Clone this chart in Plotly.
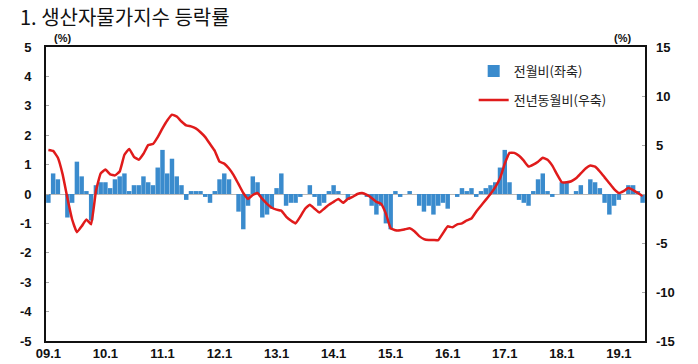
import plotly.graph_objects as go

# Monthly data 2009.1 - 2019.6
years = list(range(2009, 2020))
months = [f"{y % 100:02d}.{m}" for y in years for m in range(1, 13)][:126]

mom = [  # 전월비 (left axis, %)
    -0.3, 0.7, 0.5, 0.0, -0.8, -0.3, 1.1, 0.6, 0.1, -0.9, 0.3, 0.4,
    0.4, 0.2, 0.5, 0.6, 0.7, 0.1, 0.3, 0.3, 0.6, 0.4, 0.3, 0.9,
    1.5, 0.7, 1.2, 0.6, 0.3, -0.2, 0.1, 0.1, 0.1, -0.1, -0.3, 0.1,
    0.5, 0.7, 0.5, 0.0, -0.6, -1.2, -0.4, 0.6, 0.4, -0.8, -0.7, -0.5,
    0.2, 0.7, -0.4, -0.3, -0.3, -0.1, 0.0, 0.3, -0.1, -0.4, -0.3, 0.1,
    0.3, 0.1, 0.0, -0.2, 0.0, 0.0, 0.0, -0.1, -0.4, -0.7, -0.4, -1.0,
    -1.2, 0.1, -0.1, 0.0, 0.1, 0.0, -0.4, -0.6, -0.4, -0.7, -0.4, -0.3,
    -0.5, 0.0, -0.1, 0.2, 0.1, 0.2, -0.1, 0.1, 0.2, 0.3, 0.4, 0.9,
    1.5, 0.4, 0.0, -0.2, -0.3, -0.4, 0.1, 0.5, 0.7, 0.1, -0.1, 0.0,
    0.4, 0.4, 0.0, 0.1, 0.3, 0.0, 0.5, 0.4, 0.2, -0.3, -0.7, -0.4,
    -0.2, 0.0, 0.3, 0.3, 0.1, -0.3,
]

yoy = [  # 전년동월비 (right axis, %)
    4.5, 4.4, 3.7, 2.0, -0.4, -2.6, -3.9, -3.3, -2.6, -3.1, 0.3, 2.1,
    2.5, 2.0, 1.9, 2.3, 4.0, 4.6, 3.8, 3.5, 4.1, 5.0, 5.1, 5.8,
    6.7, 7.5, 8.1, 7.9, 7.4, 7.0, 6.9, 6.7, 6.3, 5.8, 5.1, 4.4,
    3.3, 3.1, 2.6, 1.9, 1.0, 0.1, -0.5, -0.1, 0.1, -0.5, -1.0, -1.4,
    -1.6, -1.7, -2.3, -2.7, -3.0, -2.3, -1.5, -1.1, -1.5, -1.9, -1.5, -1.1,
    -0.8, -0.5, -0.9, -0.5, -0.3, 0.0, 0.1, -0.1, -0.4, -0.8, -1.0, -2.0,
    -3.5, -3.7, -3.7, -3.6, -3.5, -3.8, -4.3, -4.6, -4.7, -4.7, -4.7, -4.0,
    -3.3, -3.4, -3.1, -3.0, -2.7, -2.5, -1.8, -1.2, -0.6, 0.0, 0.7, 1.6,
    3.1, 4.2, 4.2, 3.9, 3.4, 2.8, 3.0, 3.3, 3.7, 3.5, 2.9, 2.0,
    1.2, 1.2, 1.3, 1.6, 2.1, 2.6, 2.9, 2.8, 2.3, 1.7, 1.1, 0.5,
    0.1, 0.3, 0.6, 0.4, 0.1, -0.2,
]

x_tick_labels = ["09.1", "10.1", "11.1", "12.1", "13.1", "14.1",
                 "15.1", "16.1", "17.1", "18.1", "19.1"]
left_ticks = [5, 4, 3, 2, 1, 0, -1, -2, -3, -4, -5]
right_ticks = [15, 10, 5, 0, -5, -10, -15]

xs = list(range(len(months)))
tickfont = dict(family="Liberation Sans", size=13, color="#111111", weight="bold")
kfont = "Noto Sans CJK KR"

fig = go.Figure()
fig.add_trace(go.Bar(
    x=xs, y=mom, name="전월비(좌축)", marker=dict(color="#3a8bcd", line=dict(width=0)),
    legendgroup="a", yaxis="y",
))
fig.add_trace(go.Scatter(
    x=xs, y=yoy, name="전년동월비(우축)", mode="lines",
    line=dict(color="#e01b1b", width=2.5, shape="spline", smoothing=0.3),
    legendgroup="b", yaxis="y2",
))

fig.update_layout(
    width=698, height=364,
    margin=dict(l=46, r=53, t=47, b=23, autoexpand=False),
    plot_bgcolor="white", paper_bgcolor="white",
    bargap=0.06,
    showlegend=True,
    legend=dict(x=0.714, y=0.969, xanchor="left", yanchor="top",
                font=dict(family=kfont, size=13, color="#222222"),
                bgcolor="rgba(0,0,0,0)", tracegroupgap=9, traceorder="grouped"),
    xaxis=dict(
        range=[-0.5, len(months) - 0.5], automargin=False,
        tickvals=[months.index(t) for t in x_tick_labels],
        ticktext=x_tick_labels,
        ticks="", showgrid=False, zeroline=False,
        showline=True, linecolor="#111111", linewidth=1.6, mirror=True,
        tickfont=tickfont,
    ),
    yaxis=dict(
        range=[-5, 5], automargin=False,
        tickvals=left_ticks, ticktext=[str(v) for v in left_ticks],
        ticks="inside", ticklen=3, tickcolor="#aaaaaa",
        showgrid=False, zeroline=True, zerolinecolor="#b8b8b8", zerolinewidth=1,
        showline=True, linecolor="#111111", linewidth=1.6, mirror=True,
        tickfont=tickfont, ticklabelstandoff=10,
    ),
    yaxis2=dict(
        range=[-15, 15], automargin=False,
        tickvals=right_ticks, ticktext=[str(v) for v in right_ticks],
        overlaying="y", side="right",
        ticks="inside", ticklen=3, tickcolor="#aaaaaa",
        showgrid=False, zeroline=False, showline=False,
        tickfont=tickfont, ticklabelstandoff=10,
    ),
    annotations=[
        dict(text="1. 생산자물가지수 등락률", xref="paper", yref="paper",
             x=-0.047, y=1.105, xanchor="left", yanchor="middle", showarrow=False,
             font=dict(family=kfont, size=20, color="#111111")),
        dict(text="(%)", xref="paper", yref="paper", x=0.027, y=1.03,
             xanchor="center", yanchor="middle", showarrow=False,
             font=dict(family="Liberation Sans", size=11, color="#111111", weight="bold")),
        dict(text="(%)", xref="paper", yref="paper", x=0.962, y=1.03,
             xanchor="center", yanchor="middle", showarrow=False,
             font=dict(family="Liberation Sans", size=11, color="#111111", weight="bold")),
    ],
)

fig.write_html("out.html", config={"displayModeBar": False},
               post_script="document.body.style.margin='0';")
